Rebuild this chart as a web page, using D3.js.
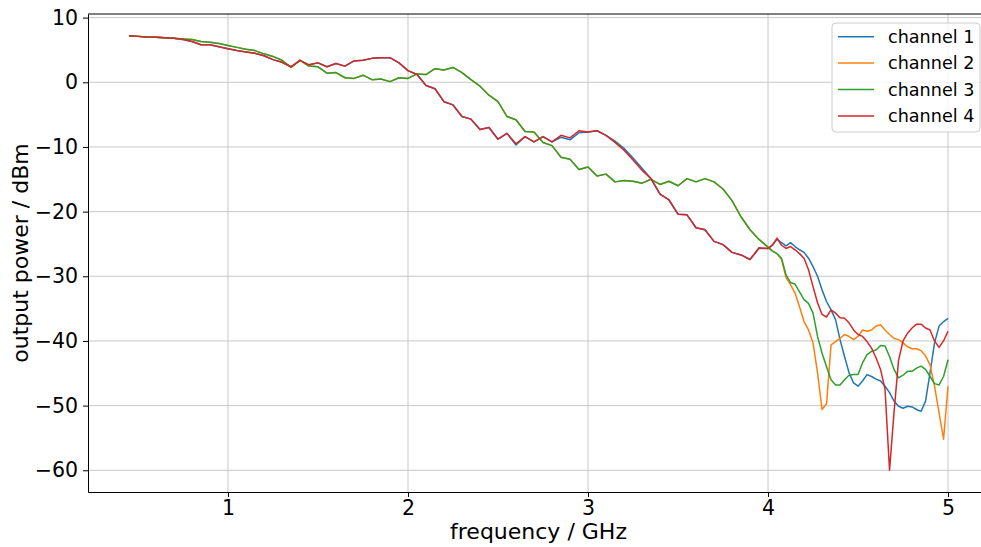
<!DOCTYPE html>
<html>
<head>
<meta charset="utf-8">
<script src="https://cdn.jsdelivr.net/npm/d3@7"></script>
<style>
  body { margin: 0; background: #fff; }
  svg { display: block; font-family: "DejaVu Sans", sans-serif; }
</style>
</head>
<body>
<svg width="981" height="547"></svg>
<script>
// sampling grids (GHz): coarse up to 4 GHz, finer above
const freqHead = d3.range(0, 72).map(i => +(0.45 + i * 0.05).toFixed(3));
const freqTail = d3.range(1, 41).map(i => +(4 + i * 0.025).toFixed(3));

// 0.45 .. 4.00 GHz
const ch1Head = [7.2, 7.1, 7.0, 6.95, 6.9, 6.8, 6.6, 6.3, 5.8, 5.8,
  5.5, 5.2, 4.9, 4.7, 4.5, 4.1, 3.5, 3.1, 2.4, 3.4,
  2.7, 3.0, 2.4, 2.9, 2.5, 3.3, 3.4, 3.7, 3.8, 3.8,
  3.0, 1.8, 1.2, -0.5, -1.0, -3.0, -3.5, -5.3, -5.7, -7.3,
  -7.0, -8.8, -7.9, -9.7, -8.4, -9.2, -8.4, -9.2, -8.5, -8.9,
  -7.8, -7.7, -7.5, -8.2, -9.1, -10.2, -11.7, -13.3, -14.9, -17.3,
  -18.2, -20.4, -20.5, -22.5, -22.8, -24.6, -25.1, -26.3, -26.7, -27.4,
  -25.7, -25.7];
const ch4Head = [7.2, 7.1, 7.0, 6.95, 6.9, 6.8, 6.6, 6.3, 5.8, 5.8,
  5.5, 5.2, 4.9, 4.7, 4.5, 4.1, 3.5, 3.1, 2.4, 3.4,
  2.7, 3.0, 2.4, 2.9, 2.5, 3.3, 3.4, 3.7, 3.8, 3.8,
  3.0, 1.8, 1.2, -0.5, -1.0, -3.0, -3.5, -5.3, -5.7, -7.3,
  -7.0, -8.8, -7.9, -9.5, -8.4, -9.2, -8.4, -9.2, -8.2, -8.6,
  -7.5, -7.7, -7.5, -8.2, -9.3, -10.5, -12.0, -13.6, -14.9, -17.3,
  -18.2, -20.4, -20.5, -22.5, -22.8, -24.6, -25.1, -26.3, -26.7, -27.4,
  -25.6, -25.7];
// channels 2 and 3 coincide up to 4 GHz
const ch23Head = [7.2, 7.1, 7.0, 6.95, 6.9, 6.8, 6.7, 6.6, 6.3, 6.2,
  6.0, 5.7, 5.4, 5.1, 4.9, 4.4, 4.0, 3.4, 2.3, 3.4,
  2.5, 2.4, 1.4, 1.5, 0.7, 0.6, 1.1, 0.4, 0.5, 0.1,
  0.7, 0.6, 1.3, 1.2, 2.1, 1.9, 2.3, 1.5, 0.4, -0.6,
  -2.0, -3.0, -5.3, -5.8, -7.6, -7.7, -9.3, -9.8, -11.6, -11.9,
  -13.5, -13.1, -14.5, -14.2, -15.4, -15.2, -15.3, -15.6, -15.0, -15.8,
  -15.3, -16.0, -14.9, -15.4, -14.9, -15.4, -16.5, -18.3, -20.8, -22.8,
  -24.3, -25.5];

// 4.025 .. 5.00 GHz
const ch1Tail = [-25.1, -24.3, -24.8, -25.3, -24.8, -25.4, -25.9, -26.3,
  -27.2, -28.5, -30.0, -32.1, -33.9, -35.2, -36.7, -39.8,
  -42.4, -44.9, -46.5, -47.0, -46.2, -45.2, -45.5, -45.9,
  -46.2, -47.0, -48.0, -49.3, -50.1, -50.4, -50.1, -50.2,
  -50.6, -50.9, -49.3, -44.9, -40.3, -37.7, -37.0, -36.5];
const ch2Tail = [-26.1, -26.5, -27.4, -30.2, -31.3, -32.6, -34.7, -37.0,
  -38.3, -40.3, -44.9, -50.6, -49.7, -40.6, -40.1, -39.6,
  -39.0, -39.3, -39.8, -39.3, -38.3, -38.5, -38.3, -37.7,
  -37.5, -38.3, -39.0, -39.6, -39.8, -40.3, -40.9, -41.2,
  -41.2, -41.5, -42.3, -43.7, -47.0, -51.1, -55.2, -47.0];
const ch3Tail = [-26.1, -26.5, -27.2, -29.8, -31.0, -31.2, -32.4, -33.6,
  -34.2, -35.7, -39.3, -41.9, -44.0, -46.0, -46.8, -46.8,
  -46.0, -45.3, -45.2, -45.2, -43.4, -42.1, -41.6, -41.4,
  -40.7, -40.8, -42.4, -44.4, -45.7, -45.3, -44.7, -44.7,
  -44.2, -43.9, -44.4, -45.5, -46.6, -46.8, -45.5, -42.9];
const ch4Tail = [-25.2, -24.1, -25.2, -25.7, -25.4, -25.9, -26.5, -27.2,
  -29.0, -31.6, -34.1, -35.9, -36.3, -35.2, -35.7, -36.4,
  -36.5, -37.2, -38.3, -39.0, -39.3, -40.1, -41.1, -42.6,
  -44.4, -47.5, -60.0, -51.0, -43.0, -40.0, -38.8, -38.0,
  -37.4, -37.4, -38.0, -38.3, -40.0, -41.0, -40.0, -38.5];

const labels = ['channel 1', 'channel 2', 'channel 3', 'channel 4'];
const colors = ['#1f77b4', '#ff7f0e', '#2ca02c', '#d62728'];
const xTicks = [1, 2, 3, 4, 5];
const yTicks = [10, 0, -10, -20, -30, -40, -50, -60];

const freq = freqHead.concat(freqTail);
const series = [
  ch1Head.concat(ch1Tail),
  ch23Head.concat(ch2Tail),
  ch23Head.concat(ch3Tail),
  ch4Head.concat(ch4Tail)
];

const svg = d3.select('svg');
const m = { left: 88, right: 989, top: 14, bottom: 492 };

const x = d3.scaleLinear().domain([0.2225, 5.2275]).range([m.left, m.right]);
const y = d3.scaleLinear().domain([-63.36, 10.56]).range([m.bottom, m.top]);

// grid
const grid = svg.append('g').attr('stroke', '#c8c8c8').attr('stroke-width', 1);
xTicks.forEach(t => grid.append('line')
  .attr('x1', x(t)).attr('x2', x(t)).attr('y1', m.top).attr('y2', m.bottom));
yTicks.forEach(t => grid.append('line')
  .attr('x1', m.left).attr('x2', m.right).attr('y1', y(t)).attr('y2', y(t)));

svg.append('clipPath').attr('id', 'plot')
  .append('rect').attr('x', m.left).attr('y', m.top)
  .attr('width', m.right - m.left).attr('height', m.bottom - m.top);

const line = d3.line()
  .x((d, i) => x(freq[i]))
  .y(d => y(d));

svg.append('g').attr('clip-path', 'url(#plot)')
  .selectAll('path').data(series).join('path')
  .attr('d', line)
  .attr('fill', 'none')
  .attr('stroke', (d, i) => colors[i])
  .attr('stroke-width', 1.5)
  .attr('stroke-linejoin', 'round');

// axes
const xAxis = svg.append('g')
  .attr('transform', `translate(0, ${m.bottom})`)
  .call(d3.axisBottom(x).tickValues(xTicks).tickSizeInner(5).tickSizeOuter(0)
    .tickPadding(3.5).tickFormat(d3.format('d')));
const yAxis = svg.append('g')
  .attr('transform', `translate(${m.left}, 0)`)
  .call(d3.axisLeft(y).tickValues(yTicks).tickSizeInner(5).tickSizeOuter(0)
    .tickPadding(5).tickFormat(d => d < 0 ? '\u2212' + Math.abs(d) : d));

[xAxis, yAxis].forEach(a => {
  a.selectAll('text').attr('font-size', 20.5).attr('fill', '#000')
    .attr('font-family', '"DejaVu Sans", sans-serif');
  a.selectAll('.tick line').attr('stroke', '#000');
  a.select('.domain').attr('stroke', '#000');
});

// top spine (right spine falls outside the picture)
svg.append('line')
  .attr('x1', m.left).attr('x2', m.right).attr('y1', m.top).attr('y2', m.top)
  .attr('stroke', '#000');

svg.append('text')
  .attr('x', (m.left + m.right) / 2).attr('y', 539)
  .attr('text-anchor', 'middle').attr('font-size', 22)
  .text('frequency / GHz');

svg.append('text')
  .attr('transform', `translate(28, ${(m.top + m.bottom) / 2}) rotate(-90)`)
  .attr('text-anchor', 'middle').attr('font-size', 22)
  .text('output power / dBm');

// legend
const legend = svg.append('g').attr('transform', 'translate(832, 23)');
legend.append('rect')
  .attr('width', 148).attr('height', 109)
  .attr('rx', 4)
  .attr('fill', 'rgba(255,255,255,0.8)')
  .attr('stroke', '#cccccc');

labels.forEach((name, i) => {
  const row = legend.append('g').attr('transform', `translate(0, ${13.7 + i * 26.4})`);
  row.append('line')
    .attr('x1', 6).attr('x2', 42)
    .attr('stroke', colors[i]).attr('stroke-width', 1.5);
  row.append('text')
    .attr('x', 56).attr('dy', '0.35em')
    .attr('font-size', 17.6)
    .text(name);
});
</script>
</body>
</html>
